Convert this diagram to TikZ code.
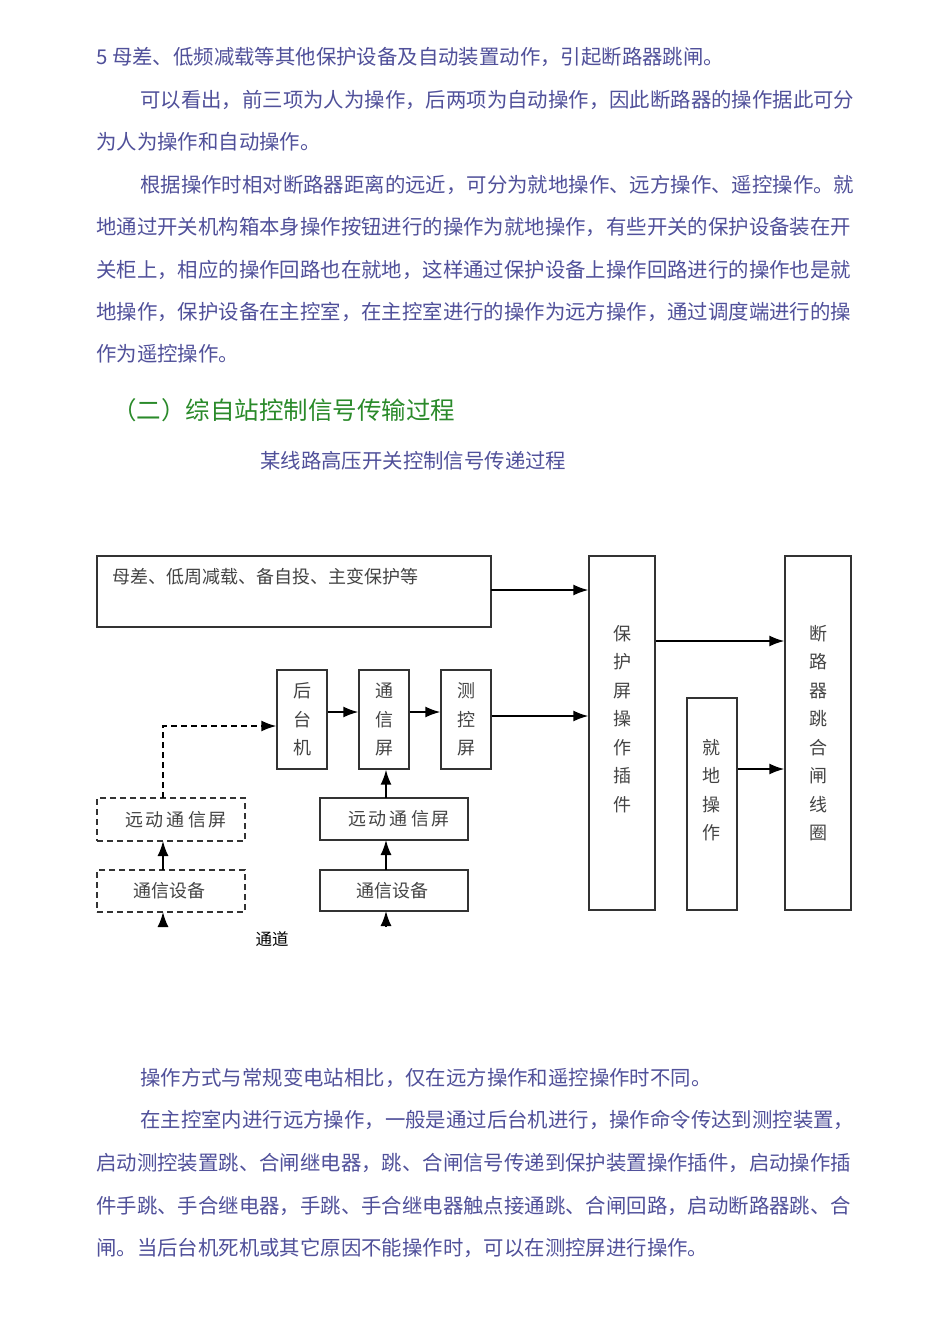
\documentclass[tikz,border=0pt]{standalone}
\usepackage{fontspec}
\setmainfont{Noto Sans CJK SC}
\usetikzlibrary{arrows.meta}
\definecolor{bodyc}{HTML}{50509A}
\definecolor{headc}{HTML}{2A8A2A}
\definecolor{diagc}{HTML}{444444}
\begin{document}
\begin{tikzpicture}[x=1pt,y=-1pt,
  body/.style={anchor=west,inner sep=0pt,text=bodyc,font=\fontsize{20.4}{22}\selectfont},
  box/.style={draw=black!80,line width=1.4pt,inner sep=0pt},
  dbox/.style={box,dashed,dash pattern=on 6pt off 4pt},
  vtxt/.style={text=diagc,align=center,inner sep=0pt,font=\fontsize{18}{28.5}\selectfont},
  htxt/.style={text=diagc,inner sep=0pt,font=\fontsize{18}{20}\selectfont},
  arr/.style={line width=1.6pt,-{Latex[length=15pt,width=11pt]}}]
\useasboundingbox (0,0) rectangle (950,1344);
\fill[white] (0,0) rectangle (950,1344);
% text above
\node[body] (l1) at (96,57) {5 母差、低频减载等其他保护设备及自动装置动作，引起断路器跳闸。};
\node[body] (l2) at (140,100) {可以看出，前三项为人为操作，后两项为自动操作，因此断路器的操作据此可分};
\node[body] (l3) at (96,142) {为人为操作和自动操作。};
\node[body] (l4) at (140,185) {根据操作时相对断路器距离的远近，可分为就地操作、远方操作、遥控操作。就};
\node[body] (l5) at (96,227) {地通过开关机构箱本身操作按钮进行的操作为就地操作，有些开关的保护设备装在开};
\node[body] (l6) at (96,270) {关柜上，相应的操作回路也在就地，这样通过保护设备上操作回路进行的操作也是就};
\node[body] (l7) at (96,312) {地操作，保护设备在主控室，在主控室进行的操作为远方操作，通过调度端进行的操};
\node[body] (l8) at (96,354) {作为遥控操作。};
\node[body,text=headc,font=\fontsize{24.5}{26}\selectfont] (h) at (112,410) {（二）综自站控制信号传输过程};
\node[body] (cap) at (260,461) {某线路高压开关控制信号传递过程};
% diagram boxes
\draw[box] (97,556) rectangle (491,627);
\node[htxt,anchor=west] (toptxt) at (112,577) {母差、低周减载、备自投、主变保护等};
\coordinate (topE) at (491,590);
\node[box,minimum width=50pt,minimum height=99pt] (htj) at (302,719.5) {};
\node[vtxt] at (htj) {后\\台\\机};
\node[box,minimum width=50pt,minimum height=99pt] (txp) at (384,719.5) {};
\node[vtxt] at (txp) {通\\信\\屏};
\node[box,minimum width=50pt,minimum height=99pt] (ckp) at (466,719.5) {};
\node[vtxt] at (ckp) {测\\控\\屏};
\node[box,minimum width=66pt,minimum height=354pt] (bhp) at (622,733) {};
\node[vtxt] at (622,719) {保\\护\\屏\\操\\作\\插\\件};
\node[box,minimum width=66pt,minimum height=354pt] (dlq) at (818,733) {};
\node[vtxt] at (818,733) {断\\路\\器\\跳\\合\\闸\\线\\圈};
\node[box,minimum width=50pt,minimum height=212pt] (jd) at (712,804) {};
\node[vtxt] at (711,790) {就\\地\\操\\作};
\node[dbox,minimum width=148pt,minimum height=43pt] (ydd) at (171,819.5) {};
\node[htxt] at (176,819.5) {远\,动\,通\,信\,屏};
\node[dbox,minimum width=148pt,minimum height=42pt] (txd) at (171,891) {};
\node[htxt] at (169,891) {通信设备};
\node[box,minimum width=148pt,minimum height=42pt] (yds) at (394,819) {};
\node[htxt] at (399,819) {远\,动\,通\,信\,屏};
\node[box,minimum width=148pt,minimum height=41pt] (txs) at (394,890.5) {};
\node[htxt] at (392,890.5) {通信设备};
\node[inner sep=0pt,font=\fontsize{16.5}{18}\selectfont] (td) at (272,939) {通道};
\coordinate (inD) at (163,927);
\coordinate (inS) at (386,927);
% arrows
\draw[arr] (topE) -- (topE -| bhp.west);
\draw[arr] (htj.east |- 0,712) -- (txp.west |- 0,712);
\draw[arr] (txp.east |- 0,712) -- (ckp.west |- 0,712);
\draw[arr] (ckp.east |- 0,716) -- (bhp.west |- 0,716);
\draw[arr] (bhp.east |- 0,641) -- (dlq.west |- 0,641);
\draw[arr] (jd.east |- 0,769) -- (dlq.west |- 0,769);
\draw[arr,dashed,dash pattern=on 6pt off 4pt] (163,798) -- (163,726) -- (htj.west |- 0,726);
\draw[arr] (163,870) -- (163,841);
\draw[arr] (inD) -- (163,912);
\draw[arr] (386,798) -- (txp.south -| 386,0);
\draw[arr] (386,870) -- (386,840);
\draw[arr] (inS) -- (386,911);
% text below
\node[body] (b1) at (140,1078) {操作方式与常规变电站相比，仅在远方操作和遥控操作时不同。};
\node[body] (b2) at (140,1120) {在主控室内进行远方操作，一般是通过后台机进行，操作命令传达到测控装置，};
\node[body] (b3) at (96,1163) {启动测控装置跳、合闸继电器，跳、合闸信号传递到保护装置操作插件，启动操作插};
\node[body] (b4) at (96,1206) {件手跳、手合继电器，手跳、手合继电器触点接通跳、合闸回路，启动断路器跳、合};
\node[body] (b5) at (96,1248) {闸。当后台机死机或其它原因不能操作时，可以在测控屏进行操作。};
\end{tikzpicture}
\end{document}
